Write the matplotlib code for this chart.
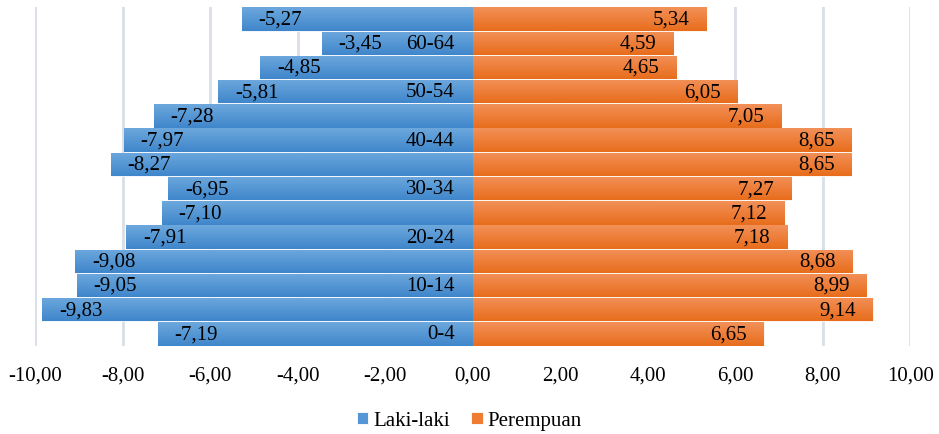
import numpy as np
import matplotlib.pyplot as plt
from matplotlib.colors import LinearSegmentedColormap

plt.rcParams['font.family'] = ['Liberation Serif', 'DejaVu Serif']

# age groups from youngest (bottom) to oldest (top)
age_groups = ['0-4', '5-9', '10-14', '15-19', '20-24', '25-29', '30-34',
              '35-39', '40-44', '45-49', '50-54', '55-59', '60-64', '65+']
laki_laki = [-7.19, -9.83, -9.05, -9.08, -7.91, -7.10, -6.95,
             -8.27, -7.97, -7.28, -5.81, -4.85, -3.45, -5.27]
perempuan = [6.65, 9.14, 8.99, 8.68, 7.18, 7.12, 7.27,
             8.65, 8.65, 7.05, 6.05, 4.65, 4.59, 5.34]
x_ticks = [-10, -8, -6, -4, -2, 0, 2, 4, 6, 8, 10]

blue_cmap = LinearSegmentedColormap.from_list('blue', ['#3f86cb', '#6da8dd'])
orange_cmap = LinearSegmentedColormap.from_list('orange', ['#e86d1c', '#f29058'])
FS = 15


def fmt(v):
    return f'{v:.2f}'.replace('.', ',')


def shade(ax, bars, cmap):
    # vertical gradient clipped to each bar
    grad = np.linspace(0, 1, 64).reshape(-1, 1)
    for b in bars:
        x0, y0, w, h = b.get_x(), b.get_y(), b.get_width(), b.get_height()
        im = ax.imshow(grad, cmap=cmap, aspect='auto', origin='lower',
                       extent=(x0, x0 + w, y0, y0 + h), zorder=2)
        im.set_clip_path(b)


fig = plt.figure(figsize=(9.39, 4.35), dpi=100)
ax = fig.add_axes([0.0373, 0.2023, 0.932, 0.7793])

y = np.arange(len(age_groups))
for t in x_ticks:
    ax.axvline(t, color='#d9dee7', lw=2, zorder=0)

b_l = ax.barh(y, laki_laki, height=0.97, color='#5597d6', label='Laki-laki',
              edgecolor='white', linewidth=0.6, zorder=1)
b_p = ax.barh(y, perempuan, height=0.97, color='#ee7d33', label='Perempuan',
              edgecolor='white', linewidth=0.6, zorder=1)
shade(ax, b_l, blue_cmap)
shade(ax, b_p, orange_cmap)

for yi, v in zip(y, laki_laki):
    ax.annotate(fmt(v), (v, yi), xytext=(12, 0), textcoords='offset points',
                ha='left', va='center', fontsize=FS, zorder=3)
for yi, v in zip(y, perempuan):
    ax.annotate(fmt(v), (v, yi), xytext=(-12, 0), textcoords='offset points',
                ha='right', va='center', fontsize=FS, zorder=3)

# every other age group is labelled next to the zero line
for yi, g in zip(y[::2], age_groups[::2]):
    ax.annotate(g, (0, yi), xytext=(-13, 0), textcoords='offset points',
                ha='right', va='center', fontsize=FS, zorder=3)

ax.set_xlim(-10, 10)
ax.set_ylim(-0.5, len(age_groups) - 0.5)
ax.set_xticks(x_ticks)
ax.set_xticklabels([fmt(t) for t in x_ticks], fontsize=FS)
ax.tick_params(axis='x', length=0, pad=14)
ax.set_yticks([])
for s in ax.spines.values():
    s.set_visible(False)

fig.legend(handles=[b_l, b_p], loc='center', bbox_to_anchor=(0.5, 0.03),
           ncol=2, frameon=False, fontsize=FS, handlelength=0.55,
           handleheight=0.55, handletextpad=0.25, columnspacing=1.0)

fig.savefig('out.png', dpi=100)
